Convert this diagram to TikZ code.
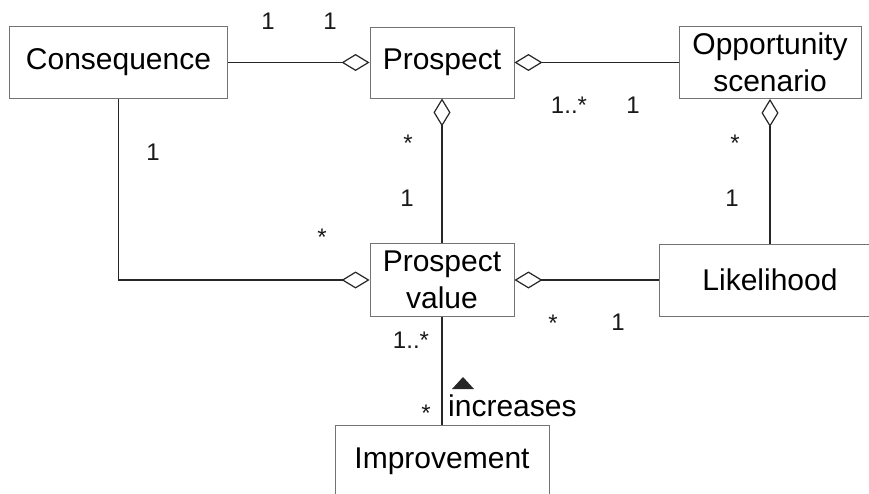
\documentclass[tikz,border=0pt]{standalone}
\usepackage{fontspec}
\setmainfont{Liberation Sans}
\usetikzlibrary{arrows.meta}
\begin{document}
\begin{tikzpicture}[x=1pt,y=-1pt,
  classbox/.style={draw=black!55, line width=0.9pt, fill=white, inner sep=0pt,
    align=center, font=\fontsize{30}{37}\selectfont},
  assoc/.style={draw=black!85, line width=1.3pt},
  agg/.style={assoc, {Diamond[open,length=28pt,width=17pt,line width=1.2pt]}-},
  mult/.style={inner sep=0pt, font=\fontsize{24}{28}\selectfont, text=black!90}
]
\useasboundingbox (0,0) rectangle (869,494);

% classes
\node[classbox, minimum width=218pt, minimum height=72pt] (cons) at (118.5,62.5) {Consequence};
\node[classbox, minimum width=144pt, minimum height=71pt] (pros) at (442,62.5) {Prospect};
\node[classbox, minimum width=182pt, minimum height=72pt] (opp) at (770,62.5) {Opportunity\\scenario};
\node[classbox, minimum width=144pt, minimum height=73pt] (pv) at (442,280) {Prospect\\value};
\node[classbox, minimum width=222pt, minimum height=72pt] (lik) at (770,280) {Likelihood};
\node[classbox, minimum width=214pt, minimum height=72pt] (imp) at (442,461) {Improvement};

% aggregations and associations
\draw[agg] (pros.west) -- (cons.east);
\draw[agg] (pros.east) -- (opp.west);
\draw[agg] (pros.south) -- (pv.north);
\draw[agg] (opp.south) -- (lik.north);
\draw[agg] (pv.west) -| (cons.south);
\draw[agg] (pv.east) -- (lik.west);
\draw[assoc] (pv.south) -- (imp.north);

% multiplicities
\node[mult] (m1) at (268,21) {1};
\node[mult] (m2) at (330,21) {1};
\node[mult] (m3) at (569,105) {1..*};
\node[mult] (m4) at (633,105) {1};
\node[mult] (m5) at (153,152) {1};
\node[mult] (m6) at (408,143) {*};
\node[mult] (m7) at (407,198) {1};
\node[mult] (m8) at (735,143) {*};
\node[mult] (m9) at (732,198) {1};
\node[mult] (m10) at (322,237) {*};
\node[mult] (m11) at (553,323) {*};
\node[mult] (m12) at (618,322) {1};
\node[mult] (m13) at (411,340) {1..*};
\node[mult] (m14) at (426,413) {*};

% association name with reading direction
\node[inner sep=0pt, anchor=base west, font=\fontsize{30}{36}\selectfont] (inc) at (448,416) {increases};
\fill[black!85] (452,389) -- (474,389) -- (463,377) -- cycle;
\end{tikzpicture}
\end{document}
